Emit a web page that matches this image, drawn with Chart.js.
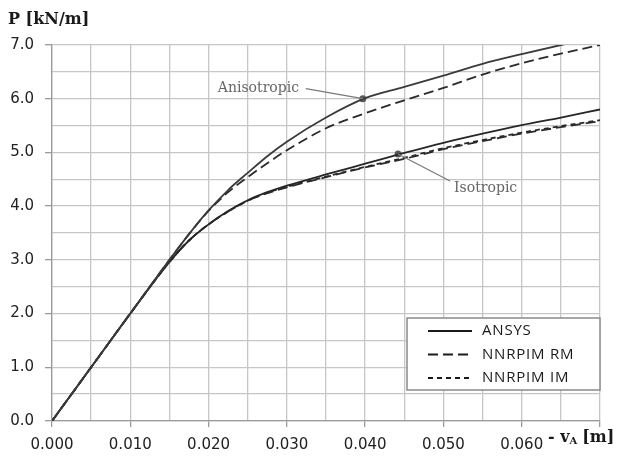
<!DOCTYPE html>
<html>
<head>
<meta charset="utf-8">
<script src="https://cdn.jsdelivr.net/npm/chart.js@4.4.1/dist/chart.umd.min.js"></script>
<style>
  html, body { margin: 0; padding: 0; background: #ffffff; }
  #wrap { position: relative; width: 627px; height: 456px; }
</style>
</head>
<body>
<div id="wrap"><canvas id="chart" width="627" height="456"></canvas></div>
<script>
// Displacement -vA [m] at which every curve is sampled
const displacement = [0, 0.005, 0.010, 0.015, 0.0175, 0.020, 0.0225, 0.025, 0.0275,
                      0.030, 0.035, 0.040, 0.045, 0.050, 0.055, 0.060, 0.065, 0.070];

// Load P [kN/m] — anisotropic material
const ansysAniso  = [0, 1.0, 2.0, 3.0, 3.48, 3.92, 4.30, 4.62, 4.93,
                     5.20, 5.65, 6.01, 6.22, 6.43, 6.65, 6.83, 7.0, 7.16];
const rmAniso     = [0, 1.0, 2.0, 3.0, 3.48, 3.91, 4.26, 4.54, 4.80,
                     5.04, 5.45, 5.73, 5.97, 6.20, 6.45, 6.66, 6.84, 7.0];

// Load P [kN/m] — isotropic material
const ansysIso    = [0, 1.0, 2.0, 2.96, 3.36, 3.66, 3.91, 4.11, 4.26,
                     4.38, 4.59, 4.79, 4.99, 5.18, 5.35, 5.51, 5.65, 5.80];
const rmIso       = [0, 1.0, 2.0, 2.96, 3.36, 3.66, 3.90, 4.10, 4.24,
                     4.35, 4.54, 4.72, 4.88, 5.06, 5.21, 5.35, 5.47, 5.58];
const imIso       = [0, 1.0, 2.0, 2.96, 3.36, 3.66, 3.90, 4.10, 4.25,
                     4.36, 4.55, 4.73, 4.90, 5.08, 5.23, 5.37, 5.49, 5.60];

// Highlighted points with their callouts
const calloutLabels = ['Anisotropic', 'Isotropic'];
const calloutX      = [0.0397, 0.0442];
const calloutY      = [6.0, 4.97];

// Axis ticks
const xTickStep = 0.005;
const yTickStep = 0.5;
const xMax = 0.070;
const yMax = 7.0;

const legendNames = ['ANSYS', 'NNRPIM RM', 'NNRPIM IM'];

const SOLID = [];
const LONG_DASH = [10, 5];
const SHORT_DASH = [5, 4];
const legendDashes = [SOLID, LONG_DASH, SHORT_DASH];

function toPoints(ys) {
  return displacement.map((x, i) => ({ x: x, y: ys[i] }));
}

function lineSet(label, ys, dash, color) {
  return {
    label: label,
    data: toPoints(ys),
    showLine: true,
    borderColor: color,
    borderWidth: 1.8,
    borderDash: dash,
    pointRadius: 0,
    pointHoverRadius: 0,
    tension: 0.3,
    cubicInterpolationMode: 'monotone',
    fill: false,
    clip: 0
  };
}

const isMajor = (v, step) => Math.abs(v / step - Math.round(v / step)) < 1e-6;

const datasets = [
  lineSet('ANSYS', ansysAniso, SOLID, '#3a3a3a'),
  lineSet('NNRPIM RM', rmAniso, LONG_DASH, '#2a2a2a'),
  lineSet('ANSYS', ansysIso, SOLID, '#262626'),
  lineSet('NNRPIM RM', rmIso, LONG_DASH, '#2a2a2a'),
  lineSet('NNRPIM IM', imIso, SHORT_DASH, '#2a2a2a'),
  {
    label: 'callouts',
    data: calloutX.map((x, i) => ({ x: x, y: calloutY[i] })),
    showLine: false,
    pointRadius: 3.5,
    pointBackgroundColor: '#595959',
    pointBorderColor: '#595959',
    pointBorderWidth: 0
  }
];

// Callout texts, axis titles and the boxed legend
const decorations = {
  id: 'decorations',
  afterDatasetsDraw(chart) {
    const ctx = chart.ctx;
    const xs = chart.scales.x, ys = chart.scales.y;
    const area = chart.chartArea;
    ctx.save();

    // callouts
    const offsets = [
      { lx: -57, ly: -10, tx: -145, ty: -7 },
      { lx: 52, ly: 27, tx: 56, ty: 38 }
    ];
    ctx.font = '14px "DejaVu Serif"';
    ctx.fillStyle = '#666666';
    ctx.strokeStyle = '#7a7a7a';
    ctx.lineWidth = 1.3;
    calloutLabels.forEach((txt, i) => {
      const px = xs.getPixelForValue(calloutX[i]);
      const py = ys.getPixelForValue(calloutY[i]);
      const o = offsets[i];
      ctx.beginPath();
      ctx.moveTo(px + o.lx, py + o.ly);
      ctx.lineTo(px, py);
      ctx.stroke();
      ctx.textAlign = 'left';
      ctx.textBaseline = 'alphabetic';
      ctx.fillText(txt, px + o.tx, py + o.ty);
    });

    // y axis title
    ctx.fillStyle = '#1a1a1a';
    ctx.textAlign = 'left';
    ctx.textBaseline = 'alphabetic';
    ctx.font = 'bold 16px "DejaVu Serif"';
    ctx.fillText('P [kN/m]', area.left - 44, area.top - 21);

    // x axis title with subscript
    let x = area.right - 52;
    const base = area.bottom + 21;
    ctx.font = 'bold 16px "DejaVu Serif"';
    ctx.fillText('- v', x, base);
    x += ctx.measureText('- v').width;
    ctx.font = 'bold 10px "DejaVu Serif"';
    ctx.fillText('A', x, base + 2);
    x += ctx.measureText('A').width + 5;
    ctx.font = 'bold 16px "DejaVu Serif"';
    ctx.fillText('[m]', x, base);

    // legend box
    const bx = area.left + 355, by = area.top + 273, bw = 193, bh = 72;
    ctx.fillStyle = '#ffffff';
    ctx.fillRect(bx, by, bw, bh);
    ctx.strokeStyle = '#8a8a8a';
    ctx.lineWidth = 1.5;
    ctx.strokeRect(bx, by, bw, bh);
    ctx.font = '15px "Open Sans"';
    ctx.letterSpacing = '0.8px';
    ctx.textBaseline = 'middle';
    legendNames.forEach((name, i) => {
      const yy = by + 13 + i * 23.5;
      ctx.strokeStyle = '#1a1a1a';
      ctx.lineWidth = 1.8;
      ctx.setLineDash(legendDashes[i]);
      ctx.beginPath();
      ctx.moveTo(bx + 21, yy);
      ctx.lineTo(bx + 65, yy);
      ctx.stroke();
      ctx.setLineDash([]);
      ctx.fillStyle = '#1a1a1a';
      ctx.fillText(name, bx + 75, yy);
    });
    ctx.restore();
  }
};

new Chart(document.getElementById('chart'), {
  type: 'scatter',
  data: { datasets: datasets },
  options: {
    responsive: false,
    animation: false,
    events: [],
    layout: { padding: { top: 45, right: 27, left: 0, bottom: 0 } },
    plugins: {
      legend: { display: false },
      tooltip: { enabled: false }
    },
    scales: {
      x: {
        type: 'linear',
        min: 0,
        max: xMax,
        afterFit: (s) => { s.height = 35; },
        border: { display: true, color: '#9a9a9a', width: 1.3 },
        grid: {
          color: '#c6c6c6',
          lineWidth: 1.3,
          drawTicks: true,
          tickLength: 6,
          tickColor: (c) => (c.tick && isMajor(c.tick.value, 0.01)) ? '#9a9a9a' : 'rgba(0,0,0,0)'
        },
        ticks: {
          stepSize: xTickStep,
          autoSkip: false,
          maxRotation: 0,
          padding: 9,
          color: '#222222',
          font: { family: '"DejaVu Sans"', size: 15 },
          callback: (v) => (isMajor(v, 0.01) && v < xMax - 1e-9) ? v.toFixed(3) : ''
        }
      },
      y: {
        type: 'linear',
        min: 0,
        max: yMax,
        afterFit: (s) => { s.width = 52; },
        border: { display: true, color: '#9a9a9a', width: 1.3 },
        grid: {
          color: '#c6c6c6',
          lineWidth: 1.3,
          drawTicks: true,
          tickLength: 7,
          tickColor: (c) => (c.tick && isMajor(c.tick.value, 1)) ? '#9a9a9a' : 'rgba(0,0,0,0)'
        },
        ticks: {
          stepSize: yTickStep,
          autoSkip: false,
          padding: 11,
          color: '#222222',
          font: { family: '"DejaVu Sans"', size: 15 },
          callback: (v) => isMajor(v, 1) ? v.toFixed(1) : ''
        }
      }
    }
  },
  plugins: [decorations]
});
</script>
</body>
</html>
